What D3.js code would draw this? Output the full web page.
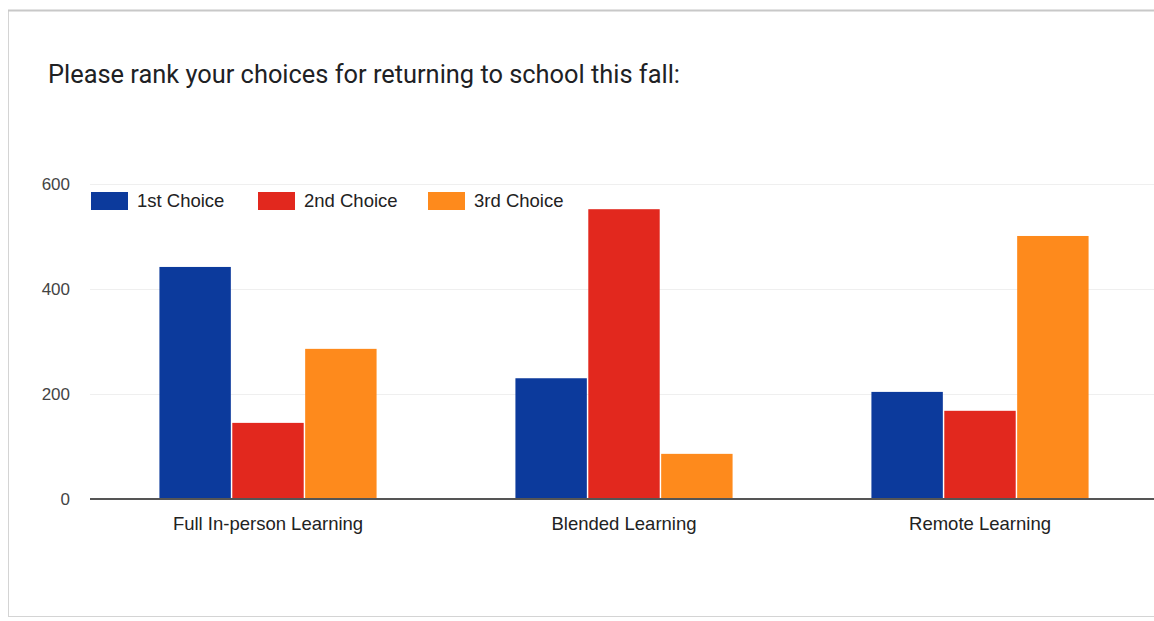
<!DOCTYPE html>
<html><head><meta charset="utf-8">
<script src="https://cdn.jsdelivr.net/npm/d3@7"></script>
<style>body{margin:0;background:#fff}svg{display:block}</style>
</head><body>
<svg id="c" width="1154" height="621"></svg>
<script>
const title = "Please rank your choices for returning to school this fall:";
const categories = ["Full In-person Learning", "Blended Learning", "Remote Learning"];
const seriesNames = ["1st Choice", "2nd Choice", "3rd Choice"];
const firstChoice = [442, 230, 204];
const secondChoice = [145, 552, 168];
const thirdChoice = [286, 86, 501];
const yTicks = [0, 200, 400, 600];
const colors = ["#0c3a9c", "#e2281e", "#fe8a1c"];

const seriesValues = [firstChoice, secondChoice, thirdChoice];
const svg = d3.select("#c");

// frame
svg.append("rect").attr("x", 8.5).attr("y", 10.5).attr("width", 1160).attr("height", 606)
  .attr("fill", "#fff").attr("stroke", "#d4d4d4").attr("stroke-width", 1);
svg.append("line").attr("x1", 8).attr("x2", 1154).attr("y1", 10.5).attr("y2", 10.5)
  .attr("stroke", "#c8c8c8").attr("stroke-width", 2);

svg.append("text").attr("x", 48).attr("y", 83).text(title)
  .attr("font-family", "Roboto, Arial, sans-serif").attr("font-size", 25)
  .attr("textLength", 632).attr("lengthAdjust", "spacingAndGlyphs").attr("fill", "#202124");

const x0 = d3.scaleBand().domain(categories).range([90, 1158]).paddingInner(0.39).paddingOuter(0.195);
const x1 = d3.scaleBand().domain(seriesNames).range([0, x0.bandwidth()]).paddingInner(0.02);
const y = d3.scaleLinear().domain([0, 600]).range([499, 184]);

// gridlines
svg.append("g").selectAll("line").data(yTicks.filter(d => d > 0)).join("line")
  .attr("x1", 90).attr("x2", 1154).attr("y1", d => y(d) + 0.5).attr("y2", d => y(d) + 0.5)
  .attr("stroke", "#efefef").attr("stroke-width", 1);

// y labels
const yAxis = d3.axisLeft(y).tickValues(yTicks).tickSize(0).tickPadding(0);
const ya = svg.append("g").attr("transform", "translate(70,0)").call(yAxis);
ya.select(".domain").remove();
ya.selectAll("text").attr("font-family", "Liberation Sans, Arial, sans-serif").attr("font-size", 17).attr("fill", "#444");

// bars
const groups = svg.append("g").selectAll("g").data(categories).join("g")
  .attr("transform", d => `translate(${x0(d)},0)`);
groups.selectAll("rect").data((d, i) => seriesNames.map((s, j) => ({s, v: seriesValues[j][i], j})))
  .join("rect")
  .attr("x", d => x1(d.s)).attr("width", x1.bandwidth())
  .attr("y", d => y(d.v)).attr("height", d => y(0) - y(d.v))
  .attr("fill", d => colors[d.j]);

// x axis
const xAxis = d3.axisBottom(x0).tickSize(0).tickPadding(18);
const xa = svg.append("g").attr("transform", `translate(0,${y(0)})`).call(xAxis);
xa.select(".domain").remove();
xa.selectAll("text").attr("font-family", "Liberation Sans, Arial, sans-serif").attr("font-size", 18.5).attr("fill", "#222");
svg.append("line").attr("x1", 90).attr("x2", 1154).attr("y1", y(0)).attr("y2", y(0))
  .attr("stroke", "#555").attr("stroke-width", 2);

// legend
const legendX = [91, 258, 428];
const lg = svg.append("g").selectAll("g").data(seriesNames).join("g")
  .attr("transform", (d, i) => `translate(${legendX[i]},192)`);
lg.append("rect").attr("width", 37).attr("height", 18).attr("fill", (d, i) => colors[i]);
lg.append("text").attr("x", 46).attr("y", 15).text(d => d)
  .attr("font-family", "Liberation Sans, Arial, sans-serif").attr("font-size", 18.5).attr("fill", "#222");
</script>
</body></html>
